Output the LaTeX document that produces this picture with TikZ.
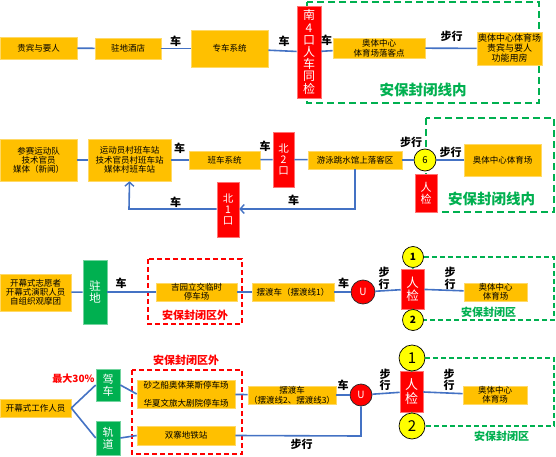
\documentclass[tikz,border=0pt]{standalone}
\usepackage{fontspec}
\setmainfont{Noto Sans CJK SC}
\usetikzlibrary{arrows.meta}
\definecolor{ygold}{HTML}{FFC000}
\definecolor{rred}{HTML}{FF0000}
\definecolor{ggreen}{HTML}{00B050}
\definecolor{lblue}{HTML}{4472C4}
\definecolor{cyel}{HTML}{FFFF00}
\tikzset{
  ybox/.style={fill=ygold, draw=ygold!60!white, line width=0.6pt, inner sep=0pt, align=center, font=\fontsize{8.5}{9.5}\selectfont},
  rbox/.style={fill=rred, draw=rred!55!white, line width=0.6pt, inner sep=0pt, align=center, text=white, font=\fontsize{11}{12}\selectfont},
  gbox/.style={fill=ggreen, draw=ggreen!55!white, line width=0.6pt, inner sep=0pt, align=center, text=white, font=\fontsize{11.5}{12}\selectfont},
  ycirc/.style={circle, fill=cyel, draw=black, line width=0.7pt, inner sep=0pt},
  ucirc/.style={circle, fill=rred, draw=black!85, line width=0.7pt, inner sep=0pt, text=white, font=\fontsize{10}{10}\selectfont},
  link/.style={draw=lblue, line width=1.6pt},
  barb/.style={-{Straight Barb[length=4pt,width=9pt,line width=1.4pt]}},
  lab/.style={inner sep=0pt, align=center, font=\bfseries\fontsize{11}{11.5}\selectfont},
  gzone/.style={draw=ggreen, line width=2.4pt, dash pattern=on 7pt off 4pt},
  gzonethin/.style={draw=ggreen, line width=1.6pt, dash pattern=on 5pt off 3pt},
  rzone/.style={draw=rred, line width=1.6pt, dash pattern=on 5pt off 3pt},
  gtext/.style={inner sep=0pt, text=ggreen, font=\bfseries\fontsize{14.5}{15}\selectfont},
  gtexts/.style={inner sep=0pt, text=ggreen, font=\bfseries\fontsize{11}{12}\selectfont},
  rtexts/.style={inner sep=0pt, text=rred, font=\bfseries\fontsize{11}{12}\selectfont},
}
\begin{document}
\begin{tikzpicture}[x=1pt, y=-1pt]
\useasboundingbox (0,0) rectangle (556,457);
\fill[white] (0,0) rectangle (556,457);

% zones
\draw[gzone] (307,2) rectangle (539,103);
\draw[gzone] (426,118) rectangle (554,212);
\draw[rzone] (148,259) rectangle (242,324);
\draw[rzone] (132,370) rectangle (242,454);

% ---------- Row 1 ----------
\node[ybox, minimum width=77, minimum height=22] (r1a) at (38.5,48) {贵宾与要人};
\node[ybox, minimum width=66, minimum height=21] (r1b) at (128,48.5) {驻地酒店};
\node[ybox, minimum width=77, minimum height=37] (r1c) at (229.5,48.5) {专车系统};
\node[rbox, minimum width=24, minimum height=92, font=\fontsize{12}{12.2}\selectfont] (r1d) at (309,52) {南\\4\\口\\人\\车\\同\\检};
\node[ybox, minimum width=92, minimum height=20, font=\fontsize{8.5}{10}\selectfont] (r1e) at (379,48) {奥体中心\\体育场落客点};
\node[ybox, minimum width=65, minimum height=33, font=\fontsize{9}{10}\selectfont] (r1f) at (509.5,48.5) {奥体中心体育场\\贵宾与要人\\功能用房};
\draw[link] (r1a) -- (r1b);
\draw[link] (r1b) -- (r1c);
\draw[link] (r1c) -- (r1d);
\draw[link] (r1d) -- (r1e);
\draw[link] (r1e) -- (r1f);
\node[lab] (l11) at (175.5,41.5) {车};
\node[lab] (l12) at (284,41.5) {车};
\node[lab] (l13) at (326.5,40) {车};
\node[lab] (l14) at (451.5,36.5) {步行};
\node[gtext] (z1) at (423,90) {安保封闭线内};

% ---------- Row 2 ----------
\node[ybox, minimum width=77, minimum height=42, font=\fontsize{8.5}{9}\selectfont] (r2a) at (38.5,160) {参赛运动队\\技术官员\\媒体（新闻）};
\node[ybox, minimum width=83, minimum height=42] (r2b) at (129.5,160) {运动员村班车站\\技术官员村班车站\\媒体村班车站};
\node[ybox, minimum width=71, minimum height=18] (r2c) at (224.5,160) {班车系统};
\node[rbox, minimum width=21, minimum height=55, font=\fontsize{10.5}{11}\selectfont] (r2d) at (283.5,159.5) {北\\2\\口};
\node[ybox, minimum width=94, minimum height=18] (r2e) at (355,160) {游泳跳水馆上落客区};
\node[ycirc, minimum size=22, font=\fontsize{9.5}{10}\selectfont] (c6) at (425,160) {6};
\node[ybox, minimum width=77, minimum height=32] (r2f) at (502.5,160) {奥体中心体育场};
\node[rbox, minimum width=22, minimum height=38] (r2g) at (426,193) {人\\检};
\node[rbox, minimum width=22, minimum height=55, font=\fontsize{10.5}{11}\selectfont] (r2h) at (228,209.5) {北\\1\\口};
\coordinate (t1) at (355,209);
\coordinate (t2) at (129,209);
\draw[link] (r2a) -- (r2b);
\draw[link] (r2b) -- (r2c);
\draw[link] (r2c) -- (r2d);
\draw[link] (r2d) -- (r2e);
\draw[link] (r2e) -- (c6);
\draw[link] (c6) -- (r2f);
\draw[link, barb] (r2e.south) -- (t1) -- (r2h.east |- t1);
\draw[link, barb] (r2h.west |- t2) -- (t2) -- (r2b.south);
\node[lab] (l21) at (179.5,148) {车};
\node[lab] (l22) at (265,146.5) {车};
\node[lab] (l23) at (411,142.5) {步行};
\node[lab] (l24) at (450.5,152) {步行};
\node[lab] (l25) at (293.5,200) {车};
\node[lab] (l26) at (175.5,202.5) {车};
\node[gtext] (z2) at (491.5,199.5) {安保封闭线内};

% ---------- Row 3 ----------
\node[ybox, minimum width=71, minimum height=37, font=\fontsize{8.5}{9}\selectfont] (r3a) at (35.5,292.5) {开幕式志愿者\\开幕式演职人员\\自组织观摩团};
\node[gbox, minimum width=24, minimum height=64] (r3b) at (95,292) {驻\\地};
\node[ybox, minimum width=81, minimum height=18, font=\fontsize{8.5}{9}\selectfont] (r3c) at (196.5,292) {吉园立交临时\\停车场};
\node[ybox, minimum width=82, minimum height=18] (r3d) at (293,292) {摆渡车（摆渡线1）};
\node[ucirc, minimum size=24] (u3) at (363,292) {U};
\node[rbox, minimum width=23, minimum height=40, font=\fontsize{12.5}{13}\selectfont] (r3e) at (412.5,289) {人\\检};
\node[ycirc, minimum size=21, font=\bfseries\fontsize{10}{10}\selectfont] (c31) at (413,257) {1};
\node[ycirc, minimum size=21, font=\bfseries\fontsize{10}{10}\selectfont] (c32) at (413,320) {2};
\node[ybox, minimum width=63, minimum height=18, font=\fontsize{8.5}{9}\selectfont] (r3f) at (495.5,292) {奥体中心\\体育场};
\coordinate (g31) at (554,257);
\coordinate (g32) at (554,320);
\draw[gzonethin] (c31.east) -- (g31) -- (g32) -- (c32.east);
\draw[gzonethin] (c31.south) -- (r3e.north);
\draw[gzonethin] (r3e.south) -- (c32.north);
\draw[link] (r3a) -- (r3b);
\draw[link] (r3b) -- (r3c);
\draw[link] (r3c) -- (r3d);
\draw[link] (r3d) -- (u3);
\draw[link] (u3) -- (r3e);
\draw[link] (r3e) -- (r3f);
\node[lab] (l31) at (121,283.5) {车};
\node[lab] (l32) at (343.5,283) {车};
\node[lab] (l33) at (384,278.5) {步\\行};
\node[lab] (l34) at (450,278.5) {步\\行};
\node[rtexts] (z3r) at (195,315) {安保封闭区外};
\node[gtexts] (z3g) at (488.5,312) {安保封闭区};

% ---------- Row 4 ----------
\node[ybox, minimum width=71, minimum height=18] (r4a) at (35.5,408) {开幕式工作人员};
\node[gbox, minimum width=24, minimum height=32, font=\fontsize{11}{12}\selectfont] (r4b) at (108,385) {驾\\车};
\node[gbox, minimum width=24, minimum height=34, font=\fontsize{11}{12}\selectfont] (r4c) at (108,438) {轨\\道};
\node[ybox, minimum width=98, minimum height=28, font=\fontsize{8.5}{17.5}\selectfont] (r4d) at (186,394) {砂之船奥体莱斯停车场\\华夏文旅大剧院停车场};
\node[ybox, minimum width=98, minimum height=19] (r4e) at (186,435.5) {双寨地铁站};
\node[ybox, minimum width=88, minimum height=18, font=\fontsize{8.5}{10}\selectfont] (r4f) at (292,395) {摆渡车\\（摆渡线2、摆渡线3）};
\node[ucirc, minimum size=22] (u4) at (361,395) {U};
\node[rbox, minimum width=23, minimum height=41, font=\fontsize{13}{13.5}\selectfont] (r4g) at (411.5,391.5) {人\\检};
\node[ycirc, minimum size=26, font=\fontsize{15}{15}\selectfont] (c41) at (412,358) {1};
\node[ycirc, minimum size=26, font=\fontsize{15}{15}\selectfont] (c42) at (412,426) {2};
\node[ybox, minimum width=64, minimum height=18, font=\fontsize{8.5}{9}\selectfont] (r4h) at (495,395) {奥体中心\\体育场};
\coordinate (g41) at (554,358);
\coordinate (g42) at (554,426);
\coordinate (t4) at (361,436);
\draw[gzonethin] (c41.east) -- (g41) -- (g42) -- (c42.east);
\draw[gzonethin] (c41.south) -- (r4g.north);
\draw[gzonethin] (r4g.south) -- (c42.north);
\draw[link] (r4a.east) -- (r4b.west);
\draw[link] (r4a.east) -- (r4c.west);
\draw[link] (r4b.east) -- (r4d.west);
\draw[link] (r4c.east) -- (r4e.west);
\draw[link] (r4d) -- (r4f);
\draw[link] (r4f) -- (u4);
\draw[link] (u4) -- (r4g);
\draw[link] (r4g) -- (r4h);
\draw[link] (r4e.east) -- (t4) -- (u4.south);
\node[lab] (l41) at (343,385.5) {车};
\node[lab] (l42) at (385,380) {步\\行};
\node[lab] (l43) at (449,380) {步\\行};
\node[lab] (l44) at (301.5,444) {步行};
\node[rtexts] (z4r) at (186,360) {安保封闭区外};
\node[rtexts, font=\bfseries\fontsize{10}{11}\selectfont] (z4m) at (73.5,379) {最大30\%};
\node[gtexts] (z4g) at (501.5,436.5) {安保封闭区};
\end{tikzpicture}
\end{document}
